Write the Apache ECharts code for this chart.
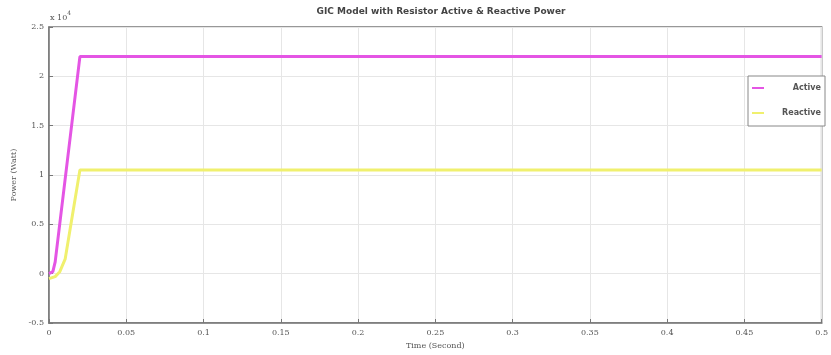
<!DOCTYPE html>
<html>
<head>
<meta charset="utf-8">
<script src="https://cdn.jsdelivr.net/npm/echarts@6/dist/echarts.min.js"></script>
<style>html,body{margin:0;padding:0;background:#fff;}#c{width:831px;height:355px;}</style>
</head>
<body>
<div id="c"></div>
<script>
const titleText = 'GIC Model with Resistor Active & Reactive Power';
const xName = 'Time (Second)';
const yName = 'Power (Watt)';
const seriesNames = ['Active', 'Reactive'];
// [time (s), power (x10^4 W)]
const activeData = [[0, 0], [0.0025, 0.02], [0.004, 0.12], [0.02, 2.2], [0.5, 2.2]];
const reactiveData = [[0, -0.05], [0.004, -0.03], [0.007, 0.02], [0.0105, 0.15], [0.02, 1.05], [0.5, 1.05]];
const xMin = 0, xMax = 0.5, xStep = 0.05;
const yMin = -0.5, yMax = 2.5, yStep = 0.5;
const colors = ['#e455e4', '#f0f06e'];

const chart = echarts.init(document.getElementById('c'));
const fmt = v => String(parseFloat(v.toFixed(4)));
chart.setOption({
  animation: false,
  backgroundColor: '#fff',
  title: {
    text: titleText, left: 436, top: 2, textAlign: 'center',
    textStyle: {fontSize: 9, fontWeight: 'bold', color: '#444', fontFamily: 'DejaVu Sans'}
  },
  grid: {left: 49, right: 8, top: 27, bottom: 32, show: true, borderColor: '#777', borderWidth: 1.5, backgroundColor: '#fff'},
  legend: {
    orient: 'vertical', left: 748, top: 76,
    padding: [8, 4, 9, 4], itemGap: 17, itemWidth: 12, itemHeight: 2,
    backgroundColor: '#fff', borderColor: '#888', borderWidth: 1,
    icon: 'rect',
    formatter: n => '{r|' + n + '}',
    textStyle: {
      fontSize: 8, fontWeight: 'bold', color: '#555', fontFamily: 'DejaVu Sans',
      rich: {r: {width: 52, align: 'right', fontSize: 8, fontWeight: 'bold', color: '#555', fontFamily: 'DejaVu Sans'}}
    },
    data: seriesNames
  },
  xAxis: {
    type: 'value', min: xMin, max: xMax, interval: xStep,
    name: xName, nameLocation: 'middle', nameGap: 19,
    nameTextStyle: {fontSize: 8, color: '#555', fontFamily: 'DejaVu Serif'},
    axisLine: {show: true, onZero: false, lineStyle: {color: '#777', width: 1.5}},
    axisTick: {show: true, inside: true, length: 4, lineStyle: {color: '#777'}},
    axisLabel: {fontSize: 8, color: '#555', margin: 6, formatter: fmt, fontFamily: 'DejaVu Serif'},
    splitLine: {show: true, lineStyle: {color: '#e6e6e6', width: 1}}
  },
  yAxis: {
    type: 'value', min: yMin, max: yMax, interval: yStep,
    name: yName, nameLocation: 'middle', nameGap: 29,
    nameTextStyle: {fontSize: 8, color: '#555', fontFamily: 'DejaVu Serif'},
    axisLine: {show: true, onZero: false, lineStyle: {color: '#777', width: 1.5}},
    axisTick: {show: true, inside: true, length: 4, lineStyle: {color: '#777'}},
    axisLabel: {fontSize: 8, color: '#555', margin: 5, formatter: fmt, fontFamily: 'DejaVu Serif'},
    splitLine: {show: true, lineStyle: {color: '#e6e6e6', width: 1}}
  },
  graphic: [{
    type: 'text', left: 50, top: 10,
    style: {
      text: '{a|x 10}{b|4}',
      rich: {
        a: {fontSize: 8, fill: '#555', fontFamily: 'DejaVu Serif', verticalAlign: 'bottom'},
        b: {fontSize: 6, fill: '#555', fontFamily: 'DejaVu Serif', verticalAlign: 'top', padding: [0, 0, 6, 0]}
      }
    }
  }],
  series: [
    {name: seriesNames[0], type: 'line', data: activeData, showSymbol: false, color: colors[0], lineStyle: {width: 3, color: colors[0]}, z: 3},
    {name: seriesNames[1], type: 'line', data: reactiveData, showSymbol: false, color: colors[1], lineStyle: {width: 3, color: colors[1]}, z: 2}
  ]
});
</script>
</body>
</html>
